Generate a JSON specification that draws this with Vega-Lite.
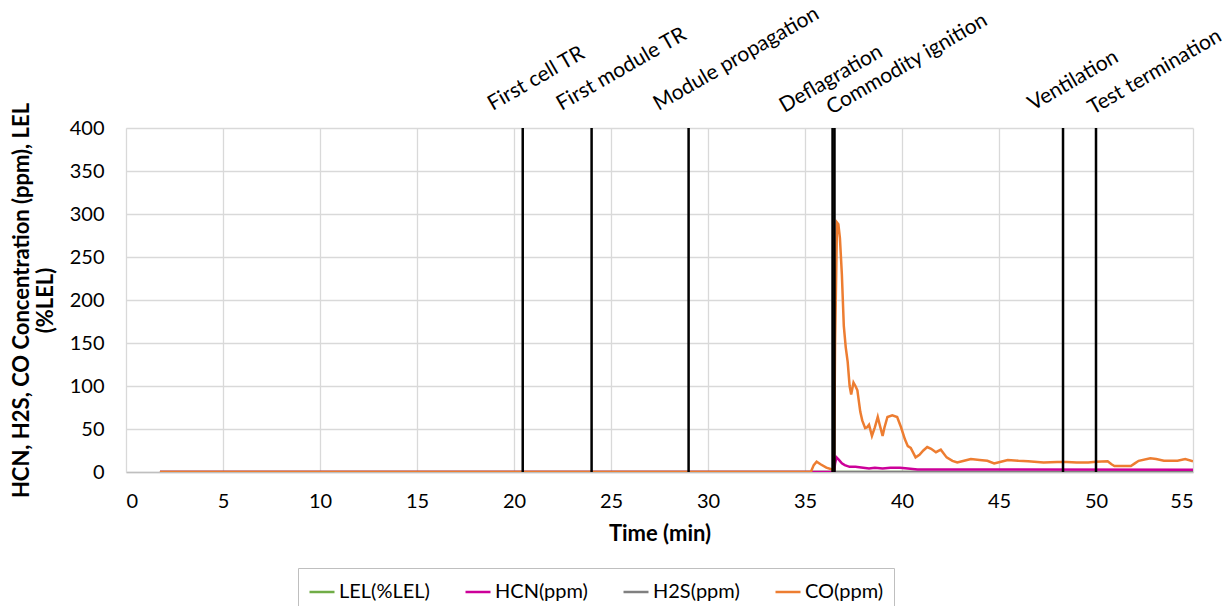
{
  "$schema": "https://vega.github.io/schema/vega-lite/v6.json",
  "width": 1067,
  "height": 344,
  "autosize": {"type": "none"},
  "padding": {"left": 126, "top": 128, "right": 39, "bottom": 134},
  "background": "white",
  "config": {
    "font": "Lato",
    "view": {"stroke": null},
    "axis": {
      "gridColor": "#d9d9d9",
      "gridWidth": 1.3,
      "ticks": false,
      "labelFontSize": 20,
      "labelColor": "#000000",
      "titleFontSize": 22,
      "titleFontWeight": "bold",
      "titleColor": "#000000"
    }
  },
  "datasets": {
    "gas": [
      {"t": 1.75, "series": "LEL(%LEL)", "v": 0},
      {"t": 55, "series": "LEL(%LEL)", "v": 0},
      {"t": 1.75, "series": "H2S(ppm)", "v": 0},
      {"t": 55, "series": "H2S(ppm)", "v": 0},
      {"t": 1.75, "series": "HCN(ppm)", "v": 0},
      {"t": 36.5, "series": "HCN(ppm)", "v": 0},
      {"t": 36.55, "series": "HCN(ppm)", "v": 10},
      {"t": 36.62, "series": "HCN(ppm)", "v": 17},
      {"t": 36.75, "series": "HCN(ppm)", "v": 14},
      {"t": 36.9, "series": "HCN(ppm)", "v": 10},
      {"t": 37.05, "series": "HCN(ppm)", "v": 8},
      {"t": 37.3, "series": "HCN(ppm)", "v": 6},
      {"t": 37.6, "series": "HCN(ppm)", "v": 6},
      {"t": 38.0, "series": "HCN(ppm)", "v": 5},
      {"t": 38.3, "series": "HCN(ppm)", "v": 4},
      {"t": 38.6, "series": "HCN(ppm)", "v": 5},
      {"t": 39.0, "series": "HCN(ppm)", "v": 4},
      {"t": 39.4, "series": "HCN(ppm)", "v": 5},
      {"t": 39.9, "series": "HCN(ppm)", "v": 5},
      {"t": 40.3, "series": "HCN(ppm)", "v": 4},
      {"t": 40.8, "series": "HCN(ppm)", "v": 3},
      {"t": 42.0, "series": "HCN(ppm)", "v": 3},
      {"t": 55.0, "series": "HCN(ppm)", "v": 2.5},
      {"t": 1.75, "series": "CO(ppm)", "v": 0},
      {"t": 35.3, "series": "CO(ppm)", "v": 0},
      {"t": 35.45, "series": "CO(ppm)", "v": 8},
      {"t": 35.6, "series": "CO(ppm)", "v": 12},
      {"t": 35.8, "series": "CO(ppm)", "v": 9},
      {"t": 36.1, "series": "CO(ppm)", "v": 5},
      {"t": 36.4, "series": "CO(ppm)", "v": 3},
      {"t": 36.5, "series": "CO(ppm)", "v": 3},
      {"t": 36.55, "series": "CO(ppm)", "v": 150},
      {"t": 36.65, "series": "CO(ppm)", "v": 290},
      {"t": 36.72, "series": "CO(ppm)", "v": 288},
      {"t": 36.8, "series": "CO(ppm)", "v": 272},
      {"t": 36.9, "series": "CO(ppm)", "v": 230},
      {"t": 37.0, "series": "CO(ppm)", "v": 170},
      {"t": 37.1, "series": "CO(ppm)", "v": 145},
      {"t": 37.2, "series": "CO(ppm)", "v": 128},
      {"t": 37.3, "series": "CO(ppm)", "v": 100},
      {"t": 37.38, "series": "CO(ppm)", "v": 90},
      {"t": 37.5, "series": "CO(ppm)", "v": 104},
      {"t": 37.6, "series": "CO(ppm)", "v": 100},
      {"t": 37.7, "series": "CO(ppm)", "v": 95},
      {"t": 37.85, "series": "CO(ppm)", "v": 70},
      {"t": 37.95, "series": "CO(ppm)", "v": 60},
      {"t": 38.1, "series": "CO(ppm)", "v": 51},
      {"t": 38.2, "series": "CO(ppm)", "v": 52},
      {"t": 38.3, "series": "CO(ppm)", "v": 55},
      {"t": 38.45, "series": "CO(ppm)", "v": 42},
      {"t": 38.6, "series": "CO(ppm)", "v": 52},
      {"t": 38.75, "series": "CO(ppm)", "v": 64},
      {"t": 38.85, "series": "CO(ppm)", "v": 55},
      {"t": 39.0, "series": "CO(ppm)", "v": 42},
      {"t": 39.1, "series": "CO(ppm)", "v": 52},
      {"t": 39.25, "series": "CO(ppm)", "v": 64},
      {"t": 39.5, "series": "CO(ppm)", "v": 66},
      {"t": 39.75, "series": "CO(ppm)", "v": 64},
      {"t": 39.95, "series": "CO(ppm)", "v": 52},
      {"t": 40.15, "series": "CO(ppm)", "v": 38},
      {"t": 40.3, "series": "CO(ppm)", "v": 30},
      {"t": 40.45, "series": "CO(ppm)", "v": 28},
      {"t": 40.7, "series": "CO(ppm)", "v": 17},
      {"t": 40.9, "series": "CO(ppm)", "v": 20},
      {"t": 41.1, "series": "CO(ppm)", "v": 25},
      {"t": 41.3, "series": "CO(ppm)", "v": 29},
      {"t": 41.5, "series": "CO(ppm)", "v": 27},
      {"t": 41.75, "series": "CO(ppm)", "v": 23},
      {"t": 42.0, "series": "CO(ppm)", "v": 26},
      {"t": 42.3, "series": "CO(ppm)", "v": 17},
      {"t": 42.6, "series": "CO(ppm)", "v": 13},
      {"t": 42.85, "series": "CO(ppm)", "v": 11},
      {"t": 43.2, "series": "CO(ppm)", "v": 13},
      {"t": 43.55, "series": "CO(ppm)", "v": 15},
      {"t": 44.0, "series": "CO(ppm)", "v": 14},
      {"t": 44.4, "series": "CO(ppm)", "v": 13},
      {"t": 44.75, "series": "CO(ppm)", "v": 10},
      {"t": 45.1, "series": "CO(ppm)", "v": 12},
      {"t": 45.45, "series": "CO(ppm)", "v": 14},
      {"t": 46.0, "series": "CO(ppm)", "v": 13},
      {"t": 46.5, "series": "CO(ppm)", "v": 12.5},
      {"t": 47.3, "series": "CO(ppm)", "v": 11},
      {"t": 48.0, "series": "CO(ppm)", "v": 11.5},
      {"t": 48.5, "series": "CO(ppm)", "v": 11.5},
      {"t": 49.0, "series": "CO(ppm)", "v": 11},
      {"t": 49.6, "series": "CO(ppm)", "v": 11},
      {"t": 50.0, "series": "CO(ppm)", "v": 12},
      {"t": 50.6, "series": "CO(ppm)", "v": 12.5},
      {"t": 50.8, "series": "CO(ppm)", "v": 9},
      {"t": 50.95, "series": "CO(ppm)", "v": 7},
      {"t": 51.8, "series": "CO(ppm)", "v": 7},
      {"t": 52.0, "series": "CO(ppm)", "v": 10},
      {"t": 52.2, "series": "CO(ppm)", "v": 13},
      {"t": 52.8, "series": "CO(ppm)", "v": 16},
      {"t": 53.1, "series": "CO(ppm)", "v": 15},
      {"t": 53.5, "series": "CO(ppm)", "v": 13},
      {"t": 54.2, "series": "CO(ppm)", "v": 13},
      {"t": 54.6, "series": "CO(ppm)", "v": 15},
      {"t": 55.0, "series": "CO(ppm)", "v": 12.5}
    ],
    "events": [
      {"t": 20.45, "label": "First cell TR"},
      {"t": 24.0, "label": "First module TR"},
      {"t": 29.0, "label": "Module propagation"},
      {"t": 36.42, "label": "Deflagration"},
      {"t": 36.52, "label": "Commodity ignition"},
      {"t": 48.3, "label": "Ventilation"},
      {"t": 50.0, "label": "Test termination"}
    ]
  },
  "layer": [
    {
      "data": {"name": "gas"},
      "mark": {"type": "line", "strokeWidth": 2.5, "clip": true},
      "encoding": {
        "x": {
          "field": "t",
          "type": "quantitative",
          "scale": {"domain": [0, 55], "nice": false, "zero": false},
          "axis": {
            "values": [0, 5, 10, 15, 20, 25, 30, 35, 40, 45, 50, 55],
            "title": "Time (min)",
            "domainColor": "#bfbfbf",
            "domainWidth": 1.5,
            "labelPadding": 19,
            "titlePadding": 12
          }
        },
        "y": {
          "field": "v",
          "type": "quantitative",
          "scale": {"domain": [0, 400], "nice": false},
          "axis": {
            "values": [0, 50, 100, 150, 200, 250, 300, 350, 400],
            "title": ["HCN, H2S, CO Concentration (ppm),  LEL", "(%LEL)"],
            "titleLineHeight": 24,
            "domainColor": "#d9d9d9",
            "labelPadding": 22,
            "titlePadding": 12
          }
        },
        "color": {
          "field": "series",
          "type": "nominal",
          "sort": null,
          "scale": {
            "domain": ["LEL(%LEL)", "HCN(ppm)", "H2S(ppm)", "CO(ppm)"],
            "range": ["#70ad47", "#cc0099", "#808080", "#ed7d31"]
          },
          "legend": {
            "title": null,
            "orient": "none",
            "direction": "horizontal",
            "legendX": 172,
            "legendY": 440,
            "symbolType": "stroke",
            "symbolSize": 625,
            "symbolStrokeWidth": 2.5,
            "labelFontSize": 20,
            "labelColor": "#000000",
            "labelOffset": 3,
            "columnPadding": 30,
            "padding": 10,
            "strokeColor": "#bfbfbf",
            "fillColor": "white"
          }
        }
      }
    },
    {
      "data": {"name": "events"},
      "mark": {"type": "rule", "color": "#000000", "strokeWidth": 2.5},
      "encoding": {"x": {"field": "t", "type": "quantitative"}}
    },
    {
      "data": {"name": "events"},
      "transform": [{"filter": {"field": "label", "oneOf": ["First cell TR", "First module TR", "Module propagation", "Ventilation"]}}],
      "mark": {"type": "text", "angle": 330, "align": "left", "baseline": "alphabetic", "fontSize": 21, "color": "#000000", "dx": -17.5, "dy": -29.7},
      "encoding": {"x": {"field": "t", "type": "quantitative"}, "y": {"datum": 400}, "text": {"field": "label"}}
    },
    {
      "data": {"name": "events"},
      "transform": [{"filter": {"field": "label", "oneOf": ["Deflagration"]}}],
      "mark": {"type": "text", "angle": 330, "align": "left", "baseline": "alphabetic", "fontSize": 21, "color": "#000000", "dx": -34.1, "dy": -37},
      "encoding": {"x": {"field": "t", "type": "quantitative"}, "y": {"datum": 400}, "text": {"field": "label"}}
    },
    {
      "data": {"name": "events"},
      "transform": [{"filter": {"field": "label", "oneOf": ["Commodity ignition", "Test termination"]}}],
      "mark": {"type": "text", "angle": 330, "align": "left", "baseline": "alphabetic", "fontSize": 21, "color": "#000000", "dx": 3.9, "dy": -12.8},
      "encoding": {"x": {"field": "t", "type": "quantitative"}, "y": {"datum": 400}, "text": {"field": "label"}}
    }
  ]
}
